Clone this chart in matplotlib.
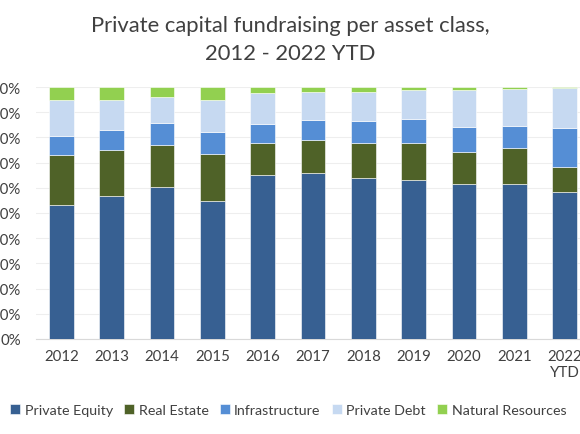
import matplotlib

matplotlib.use("Agg")
import matplotlib.pyplot as plt
import matplotlib.ticker as ticker
import numpy as np

plt.rcParams["font.family"] = ["Lato", "DejaVu Sans"]

years = ["2012", "2013", "2014", "2015", "2016", "2017", "2018", "2019",
         "2020", "2021", "2022\nYTD"]

# share of total fundraising per year, in %
private_equity = [53.3, 56.9, 60.2, 54.9, 65.2, 65.9, 63.9, 63.2, 61.4, 61.4, 58.2]
real_estate = [19.7, 18.1, 16.9, 18.4, 12.7, 12.9, 13.7, 14.7, 12.9, 14.3, 10.1]
infrastructure = [7.7, 8.1, 8.5, 8.7, 7.5, 8.0, 8.8, 9.4, 9.7, 8.7, 15.4]
private_debt = [14.3, 11.9, 10.4, 13.0, 12.3, 11.3, 11.5, 11.6, 14.9, 14.7, 15.9]
natural_resources = [5.0, 5.0, 4.0, 5.0, 2.3, 1.9, 2.1, 1.1, 1.1, 0.9, 0.4]

series = [
    ("Private Equity", private_equity, "#376092"),
    ("Real Estate", real_estate, "#4f6228"),
    ("Infrastructure", infrastructure, "#558ed5"),
    ("Private Debt", private_debt, "#c6d9f1"),
    ("Natural Resources", natural_resources, "#92d050"),
]

fig = plt.figure(figsize=(5.8, 4.35), dpi=100)
ax = fig.add_axes([0.0622, 0.2184, 0.955, 0.5793])

x = np.arange(len(years))
bottom = np.zeros(len(years))
for name, values, color in series:
    vals = np.array(values) / 100.0
    ax.bar(x, vals, width=0.49, bottom=bottom, color=color, label=name,
           edgecolor="#ffffff", linewidth=0.4, zorder=3)
    bottom += vals

ax.set_xlim(-0.5, len(years) - 0.5)
ax.set_ylim(0, 1)
ax.yaxis.set_major_locator(ticker.MultipleLocator(0.1))
ax.yaxis.set_major_formatter(ticker.PercentFormatter(1.0, decimals=0))
ax.set_xticks(x)
ax.set_xticklabels(years)

ax.grid(axis="y", color="#eeeeee", linewidth=0.8, zorder=0)
for side in ["top", "right", "left"]:
    ax.spines[side].set_visible(False)
ax.spines["bottom"].set_color("#d9d9d9")
ax.tick_params(axis="both", length=0, labelsize=10.8, colors="#404040")
ax.tick_params(axis="y", pad=11)
ax.tick_params(axis="x", pad=7)

fig.text(0.5, 1 - 40 / 435, "Private capital fundraising per asset class,\n2012 - 2022 YTD",
         ha="center", va="center", fontsize=15.8, color="#404040", linespacing=1.45)

fig.legend(loc="center", bbox_to_anchor=(0.497, 24 / 435), ncol=5, frameon=False,
           fontsize=10.3, handlelength=0.7, handleheight=0.7, handletextpad=0.3,
           columnspacing=0.8, labelcolor="#404040")

fig.savefig("out.png", dpi=100)
